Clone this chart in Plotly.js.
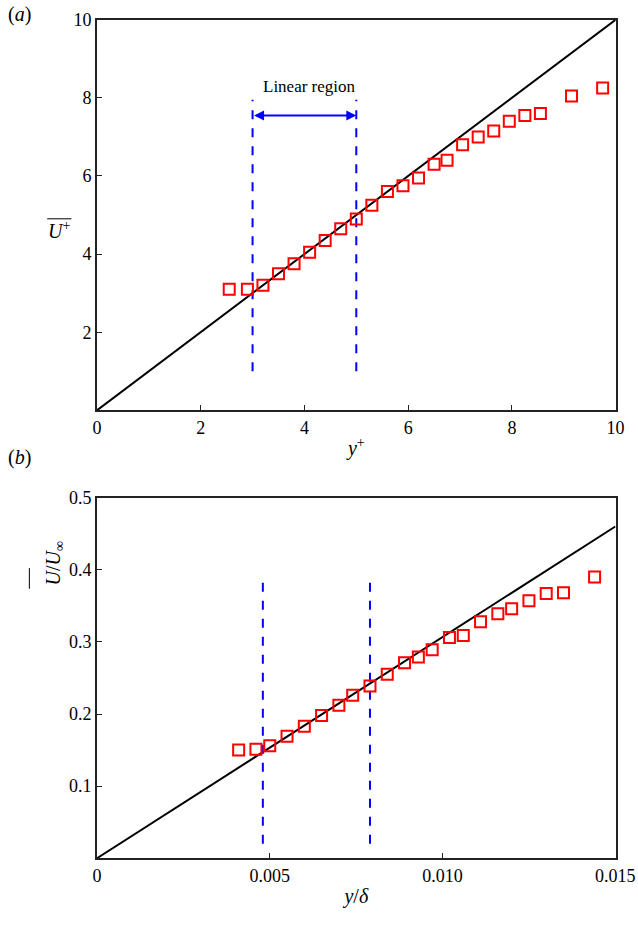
<!DOCTYPE html><html><head><script src="https://cdn.plot.ly/plotly-3.0.1.min.js"></script></head><body style="margin:0"><div id="g" style="width:638px;height:939px"></div><script>
const ax = [2.55,2.9,3.2,3.5,3.8,4.1,4.4,4.7,5.0,5.3,5.6,5.9,6.2,6.5,6.75,7.05,7.35,7.65,7.95,8.25,8.55,9.15,9.75];
const ay = [3.1,3.1,3.2,3.5,3.75,4.05,4.35,4.65,4.9,5.25,5.6,5.75,5.95,6.3,6.4,6.8,7.0,7.15,7.4,7.55,7.6,8.05,8.25];
const bx = [0.0041,0.0046,0.0050,0.0055,0.0060,0.0065,0.0070,0.0074,0.0079,0.0084,0.0089,0.0093,0.0097,0.0102,0.0106,0.0111,0.0116,0.0120,0.0125,0.0130,0.0135,0.0144];
const by = [0.150,0.151,0.156,0.169,0.183,0.198,0.212,0.226,0.239,0.255,0.271,0.279,0.289,0.306,0.309,0.328,0.339,0.346,0.357,0.367,0.368,0.390];
const lineA = {x:[0,10], y:[0,10]};
const lineB = {x:[0,0.015], y:[0,0.46]};
const dashA = [3,5], dashAy=[1,7.95];
const dashB = [0.0048,0.0079], dashBy=[0.02,0.39];
const mk = {symbol:'square-open', size:11, color:'#ff0000', line:{width:2}};
const blue='#0000ff';
const traces = [
 {x:lineA.x,y:lineA.y,mode:'lines',line:{color:'black',width:2},xaxis:'x',yaxis:'y'},
 {x:[dashA[0],dashA[0]],y:dashAy,mode:'lines',line:{color:blue,width:2,dash:'dash'},xaxis:'x',yaxis:'y'},
 {x:[dashA[1],dashA[1]],y:dashAy,mode:'lines',line:{color:blue,width:2,dash:'dash'},xaxis:'x',yaxis:'y'},
 {x:ax,y:ay,mode:'markers',marker:mk,xaxis:'x',yaxis:'y'},
 {x:lineB.x,y:lineB.y,mode:'lines',line:{color:'black',width:2},xaxis:'x2',yaxis:'y2'},
 {x:[dashB[0],dashB[0]],y:dashBy,mode:'lines',line:{color:blue,width:2,dash:'dash'},xaxis:'x2',yaxis:'y2'},
 {x:[dashB[1],dashB[1]],y:dashBy,mode:'lines',line:{color:blue,width:2,dash:'dash'},xaxis:'x2',yaxis:'y2'},
 {x:bx,y:by,mode:'markers',marker:mk,xaxis:'x2',yaxis:'y2'}
];
const F='Liberation Serif';
const axc = {showgrid:false,zeroline:false,showline:true,mirror:true,linecolor:'#222',linewidth:2,ticks:'inside',ticklen:5,tickcolor:'#222',tickfont:{size:18,family:F}};
const layout = {
 width:638,height:939,margin:{l:0,r:0,t:0,b:0},showlegend:false,paper_bgcolor:'white',plot_bgcolor:'white',
 font:{family:F,color:'black'},
 xaxis:Object.assign({},axc,{domain:[0.152,0.965],range:[0,10.001],tickvals:[0,2,4,6,8,10],anchor:'y',title:{text:'<i>y</i><sup>+</sup>',font:{size:20,family:F},standoff:4}}),
 yaxis:Object.assign({},axc,{domain:[0.563,0.979],range:[0,10.001],tickvals:[2,4,6,8,10],anchor:'x'}),
 xaxis2:Object.assign({},axc,{domain:[0.152,0.965],range:[0,0.01501],tickvals:[0,0.005,0.010,0.015],ticktext:['0','0.005','0.010','0.015'],anchor:'y2',title:{text:'<i>y</i>/<i>δ</i>',font:{size:20,family:F},standoff:4}}),
 yaxis2:Object.assign({},axc,{domain:[0.086,0.47],range:[0,0.5],tickvals:[0.1,0.2,0.3,0.4,0.5],anchor:'x2'}),
 shapes:[
  {type:'line',xref:'paper',yref:'paper',x0:0.074,x1:0.112,y0:0.767,y1:0.767,line:{color:'black',width:1}},
  {type:'line',xref:'paper',yref:'paper',x0:0.046,x1:0.046,y0:0.373,y1:0.395,line:{color:'black',width:1}}
 ],
 annotations:[
  {xref:'paper',yref:'paper',x:0.01,y:0.999,text:'(<i>a</i>)',showarrow:false,xanchor:'left',yanchor:'top',font:{size:20}},
  {xref:'paper',yref:'paper',x:0.01,y:0.527,text:'(<i>b</i>)',showarrow:false,xanchor:'left',yanchor:'top',font:{size:20}},
  {xref:'paper',yref:'paper',x:0.072,y:0.77,text:'<i>U</i><sup>+</sup>',showarrow:false,font:{size:20}},
  {xref:'paper',yref:'paper',x:0.062,y:0.4,text:'<i>U</i>/<i>U</i><sub>∞</sub>',showarrow:false,textangle:-90,font:{size:20}},
  {x:4.1,y:8.3,xref:'x',yref:'y',text:'Linear region',showarrow:false,font:{size:17}},
  {x:5,y:7.55,ax:3,ay:7.55,xref:'x',yref:'y',axref:'x',ayref:'y',text:'',showarrow:true,arrowhead:2,arrowside:'end+start',arrowcolor:blue,arrowwidth:2,arrowsize:1}
 ]
};
Plotly.newPlot('g',traces,layout,{displayModeBar:false});
</script></body></html>
